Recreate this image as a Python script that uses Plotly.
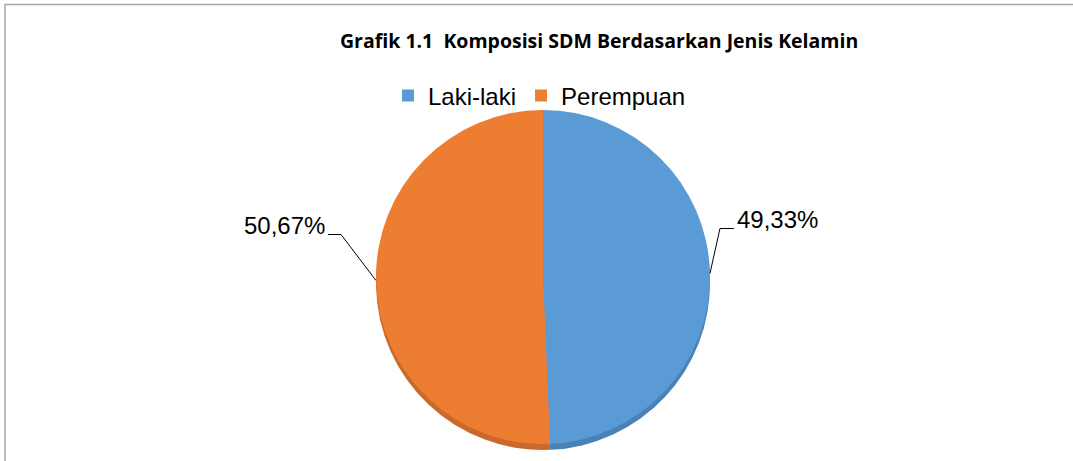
import math
import plotly.graph_objects as go

# ---- data ----
categories = ["Laki-laki", "Perempuan"]
values = [49.33, 50.67]
value_labels = ["49,33%", "50,67%"]
title_text = "Grafik 1.1  Komposisi SDM Berdasarkan Jenis Kelamin"

# ---- style ----
W, H = 1073, 461
colors = ["#5B9BD5", "#ED7D31"]
edge_colors = ["#4A82B6", "#C9692B"]
FONT = "Liberation Sans, Arial, sans-serif"
TITLE_FONT = "Open Sans, Liberation Sans, sans-serif"
CX, CY, R = 543, 277, 167      # pie centre / radius in pixels
DEPTH = 6                       # pseudo-3D thickness in pixels
# leader line geometry per label: (elbow dx, elbow dy, horizontal run, side)
leader_style = [(10, -45, 14, 1), (-35, -46, -13, -1)]


def px(x):
    return x / W


def py(y):
    return 1 - y / H


fig = go.Figure()

# darker copy slightly lower to imitate pie thickness
fig.add_trace(go.Pie(
    labels=categories, values=values, sort=False, direction="clockwise",
    rotation=0, textinfo="none", hoverinfo="skip", showlegend=False,
    marker=dict(colors=edge_colors, line=dict(width=0)),
    domain=dict(x=[px(CX - R), px(CX + R)], y=[py(CY + R + DEPTH), py(CY - R + DEPTH)]),
))
fig.add_trace(go.Pie(
    labels=categories, values=values, sort=False, direction="clockwise",
    rotation=0, textinfo="none",
    marker=dict(colors=colors, line=dict(width=0)),
    domain=dict(x=[px(CX - R), px(CX + R)], y=[py(CY + R), py(CY - R)]),
))

# data labels with leader lines computed from slice mid-angles
total = sum(values)
shapes = []
annotations = []
start = 0.0
for v, lab, (edx, edy, run, side) in zip(values, value_labels, leader_style):
    mid = (start + v / 2) / total * 2 * math.pi
    start += v
    ex = CX + R * math.sin(mid)
    ey = CY - R * math.cos(mid)
    bx, by = ex + edx, ey + edy
    tx = bx + run
    shapes.append(dict(
        type="path", xref="paper", yref="paper",
        path=f"M {px(ex)} {py(ey)} L {px(bx)} {py(by)} L {px(tx)} {py(by)}",
        line=dict(color="#000000", width=1),
    ))
    annotations.append(dict(
        x=px(tx + (1 if side > 0 else -1)), y=py(by - 9), xref="paper", yref="paper",
        text=lab, showarrow=False, xanchor="left" if side > 0 else "right",
        yanchor="middle", font=dict(family=FONT, size=24, color="#000000"),
    ))

annotations.append(dict(
    x=px(599), y=py(41), xref="paper", yref="paper", text=f"<b>{title_text}</b>",
    showarrow=False, xanchor="center", yanchor="middle",
    font=dict(family=TITLE_FONT, size=19.5, color="#000000"),
))

# chart border
shapes.append(dict(
    type="rect", xref="paper", yref="paper",
    x0=px(5), y0=-0.2, x1=1.2, y1=py(4.5),
    line=dict(color="#A6A6A6", width=1.5), layer="below",
))

fig.update_layout(
    width=W, height=H, margin=dict(l=0, r=0, t=0, b=0),
    paper_bgcolor="white", plot_bgcolor="white",
    shapes=shapes, annotations=annotations,
    showlegend=True,
    legend=dict(
        orientation="h", x=px(388), y=py(96), xanchor="left", yanchor="middle",
        font=dict(family=FONT, size=24, color="#000000"),
        tracegroupgap=0, bgcolor="rgba(0,0,0,0)",
    ),
)

fig.write_html(
    "out.html",
    config={"displayModeBar": False},
    post_script="document.body.style.margin='0';document.body.style.overflow='hidden';",
)
